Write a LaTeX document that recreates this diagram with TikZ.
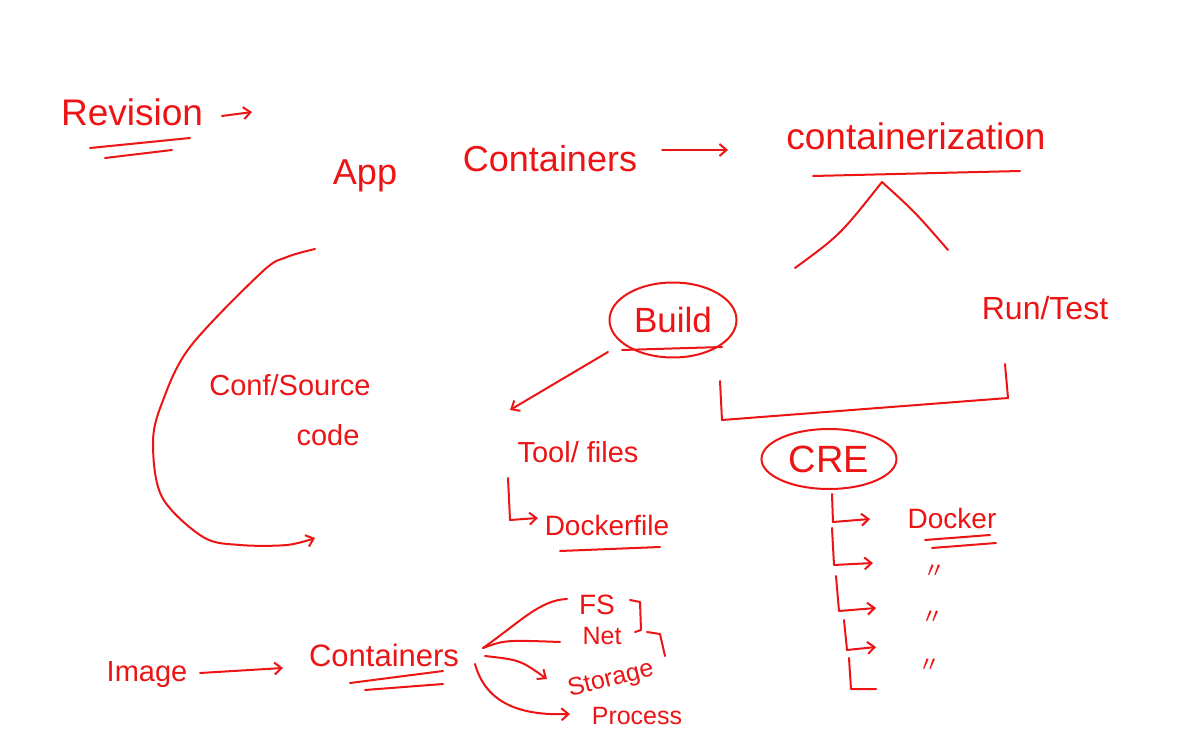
\documentclass[tikz,border=0pt]{standalone}
\usepackage{fontspec}
\setmainfont{Liberation Sans}
\newfontfamily\cjkfont{Noto Sans CJK SC}
\usetikzlibrary{arrows.meta,shapes.geometric}
\definecolor{ink}{RGB}{236,20,20}
\begin{document}
\begin{tikzpicture}[x=0.5pt,y=-0.5pt,
  pen/.style={draw=ink,line width=1pt,line cap=round,line join=round},
  arr/.style={pen,-{Straight Barb[length=3.5pt,width=6pt]}},
  lbl/.style={text=ink,inner sep=0pt,anchor=base},
  oval/.style={ellipse,draw=ink,line width=1pt,text=ink,inner sep=0pt}]
\useasboundingbox (0,0) rectangle (1185,743);
\fill[white] (0,0) rectangle (1185,743);

% ---- top row
\node[lbl,font=\fontsize{18.5}{18.5}\selectfont] (revision) at (132,126) {Revision};
\coordinate (revA) at (222,116);
\coordinate (revB) at (252,112);
\draw[arr] (revA) -- (revB);
\coordinate (ru1a) at (90,148); \coordinate (ru1b) at (190,138);
\coordinate (ru2a) at (105,158); \coordinate (ru2b) at (172,150);
\draw[pen] (ru1a) -- (ru1b);
\draw[pen] (ru2a) -- (ru2b);

\node[lbl,font=\fontsize{18}{18}\selectfont] (app) at (365,185) {App};
\node[lbl,font=\fontsize{18}{18}\selectfont] (containersT) at (550,172) {Containers};
\node[lbl,font=\fontsize{18.5}{18.5}\selectfont] (containerization) at (916,150) {containerization};
\coordinate (ctA) at (662,150);
\coordinate (ctB) at (728,150);
\draw[arr] (ctA) -- (ctB);
\coordinate (cu1) at (813,176); \coordinate (cu2) at (1020,171);
\draw[pen] (cu1) -- (cu2);

% caret
\coordinate (peakL) at (795,268);
\coordinate (peak) at (882,182);
\coordinate (peakR) at (948,250);
\draw[pen] (peakL) .. controls (840,235) .. (peak) .. controls (915,212) .. (peakR);

% Build and Run/Test
\node[oval,font=\fontsize{17.5}{17.5}\selectfont,minimum width=63.5pt,minimum height=37.5pt] (build) at (673,320) {Build};
\coordinate (bu1) at (622,350); \coordinate (bu2) at (722,347);
\draw[pen] (bu1) -- (bu2);
\node[lbl,font=\fontsize{16}{16}\selectfont] (runtest) at (1045,320) {Run/Test};

% bracket to CRE
\coordinate (brA) at (720,381);
\coordinate (brB) at (722,420);
\coordinate (brC) at (1008,398);
\coordinate (brD) at (1005,364);
\draw[pen] (brA) -- (brB) -- (brC) -- (brD);

% Build -> Tool/files
\node[lbl,font=\fontsize{14.5}{14.5}\selectfont] (tool) at (578,463) {Tool/ files};
\coordinate (bt1) at (608,352);
\coordinate (bt2) at (510,410);
\draw[arr] (bt1) -- (bt2);

\node[lbl,font=\fontsize{14}{14}\selectfont] (dockerfile) at (607,536) {Dockerfile};
\coordinate (dfA) at (508,478);
\coordinate (dfB) at (510,520);
\coordinate (dfC) at (538,518);
\draw[arr] (dfA) -- (dfB) -- (dfC);
\coordinate (du1) at (560,551); \coordinate (du2) at (660,547);
\draw[pen] (du1) -- (du2);

% Conf/Source code with arc
\node[lbl,font=\fontsize{14.5}{14.5}\selectfont] (conf) at (290,396) {Conf/Source};
\node[lbl,font=\fontsize{14.5}{14.5}\selectfont] (code) at (328,446) {code};
\draw[arr] plot[smooth,tension=0.55] coordinates {(315,249) (287,257) (262,272) (190,347) (162,403) (153,443) (162,497) (203,537) (240,545) (287,545) (315,538)};

% CRE
\node[oval,font=\fontsize{19}{19}\selectfont,minimum width=67.5pt,minimum height=30pt] (cre) at (829,459) {CRE};
\draw[arr] (832,494) -- (833,522) -- (870,519);
\draw[arr] (832,528) -- (834,565) -- (873,563);
\draw[arr] (836,576) -- (839,611) -- (876,608);
\draw[arr] (844,620) -- (847,650) -- (876,647);
\draw[pen] (849,658) -- (851,689) -- (876,689);

\node[lbl,font=\fontsize{14}{14}\selectfont] (docker) at (952,529) {Docker};
\draw[pen] (925,540) -- (990,535);
\draw[pen] (932,548) -- (996,543);
\node[text=ink,inner sep=0pt,font=\cjkfont\fontsize{11}{11}\selectfont] (d1) at (934,572) {〃};
\node[text=ink,inner sep=0pt,font=\cjkfont\fontsize{11}{11}\selectfont] (d2) at (932,618) {〃};
\node[text=ink,inner sep=0pt,font=\cjkfont\fontsize{11}{11}\selectfont] (d3) at (929,666) {〃};

% bottom row
\node[lbl,font=\fontsize{14.5}{14.5}\selectfont] (image) at (147,682) {Image};
\node[lbl,font=\fontsize{15.5}{15.5}\selectfont] (containersB) at (384,666) {Containers};
\coordinate (imA) at (200,673);
\coordinate (imB) at (283,668);
\draw[arr] (imA) -- (imB);
\draw[pen] (350,683) -- (443,671);
\draw[pen] (365,690) -- (443,684);

\node[lbl,font=\fontsize{14}{14}\selectfont] (fs) at (597,614) {FS};
\node[lbl,font=\fontsize{12.5}{12.5}\selectfont] (net) at (602,644) {Net};
\node[text=ink,inner sep=0pt,rotate=14,font=\fontsize{12.5}{12.5}\selectfont] (storage) at (611,680) {Storage};
\node[lbl,font=\fontsize{12.5}{12.5}\selectfont] (process) at (637,724) {Process};

\coordinate (fan) at (483,648);
\draw[pen] (fan) .. controls (520,622) and (540,600) .. (567,599);
\draw[pen] (fan) .. controls (505,640) .. (560,642);
\draw[arr] (485,656) .. controls (520,660) .. (547,679);
\draw[arr] (475,664) .. controls (485,700) and (515,716) .. (570,714);

\draw[pen] (630,600) -- (640,602) -- (641,630) -- (635,632);
\draw[pen] (647,632) -- (660,634) -- (665,656);
\end{tikzpicture}
\end{document}
